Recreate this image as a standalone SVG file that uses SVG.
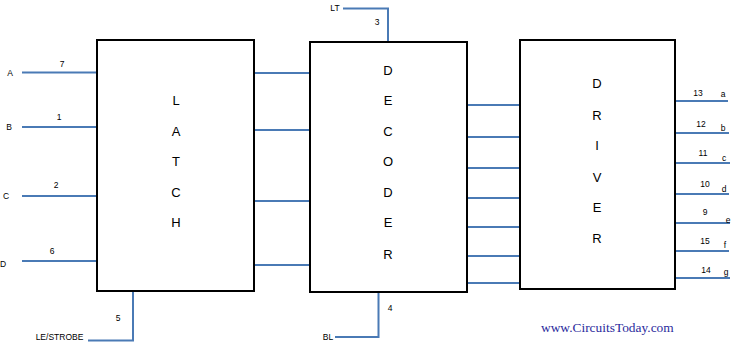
<svg xmlns="http://www.w3.org/2000/svg" width="738" height="350" viewBox="0 0 738 350">
<style>
.box{fill:#fff;stroke:#000;stroke-width:2}
.w{fill:none;stroke:#4a7ab5;stroke-width:2}
.big{font-family:"Liberation Sans",Arial,sans-serif;font-size:13px;fill:#000;text-anchor:middle}
.sm{font-family:"Liberation Sans",Arial,sans-serif;font-size:8.5px;fill:#000}
.mid{text-anchor:middle}
.url{font-family:"Liberation Serif","Times New Roman",serif;font-size:13.4px;fill:#2a2a9c}
</style>
<rect width="738" height="350" fill="#fff"/>
<g id="connectors">
<path class="w" d="M22 72.5H97M22 127H97M22 196H97M22 261H97"/>
<path class="w" d="M254 73H310M254 130H310M254 201H310M254 265H310"/>
<path class="w" d="M467 105H520M467 137H520M467 168H520M467 198H520M467 227H520M467 256H520M467 283H520"/>
<path class="w" d="M675 101H728M675 133H729M675 163H730M675 194H729M675 223H730M675 251H729M675 278H730"/>
<path class="w" d="M343 8.5H388V42"/>
<path class="w" d="M378.5 292V337H335"/>
<path class="w" d="M133 291V340.5H88"/>
</g>
<g id="latch">
<rect class="box" x="97" y="40" width="157" height="251"/>
<text class="big" x="176" y="105">L</text>
<text class="big" x="176" y="136">A</text>
<text class="big" x="176" y="166">T</text>
<text class="big" x="176" y="197">C</text>
<text class="big" x="176" y="227">H</text>
</g>
<g id="decoder">
<rect class="box" x="310" y="42" width="157" height="250"/>
<text class="big" x="388" y="75">D</text>
<text class="big" x="388" y="105">E</text>
<text class="big" x="388" y="136">C</text>
<text class="big" x="388" y="166">O</text>
<text class="big" x="388" y="197">D</text>
<text class="big" x="388" y="227">E</text>
<text class="big" x="388" y="259">R</text>
</g>
<g id="driver">
<rect class="box" x="520" y="40" width="155" height="249"/>
<text class="big" x="597" y="88">D</text>
<text class="big" x="597" y="120">R</text>
<text class="big" x="597" y="150">I</text>
<text class="big" x="597" y="182">V</text>
<text class="big" x="597" y="212">E</text>
<text class="big" x="597" y="243">R</text>
</g>
<g id="labels">
<text class="sm mid" x="10" y="76">A</text>
<text class="sm mid" x="9" y="130">B</text>
<text class="sm mid" x="6" y="199">C</text>
<text class="sm mid" x="3" y="267">D</text>
<text class="sm mid" x="62" y="67">7</text>
<text class="sm mid" x="59" y="120">1</text>
<text class="sm mid" x="56" y="188">2</text>
<text class="sm mid" x="52" y="254">6</text>
<text class="sm mid" x="335" y="11">LT</text>
<text class="sm mid" x="377" y="25">3</text>
<text class="sm mid" x="328" y="340">BL</text>
<text class="sm mid" x="390" y="311">4</text>
<text class="sm mid" x="59.5" y="340">LE/STROBE</text>
<text class="sm mid" x="118" y="321">5</text>
<text class="sm mid" x="698" y="96">13</text>
<text class="sm mid" x="701" y="127">12</text>
<text class="sm mid" x="703" y="156">11</text>
<text class="sm mid" x="705" y="187">10</text>
<text class="sm mid" x="705" y="215">9</text>
<text class="sm mid" x="705" y="244">15</text>
<text class="sm mid" x="706" y="273">14</text>
<text class="sm mid" x="723" y="97">a</text>
<text class="sm mid" x="723" y="131">b</text>
<text class="sm mid" x="724" y="161">c</text>
<text class="sm mid" x="724" y="192">d</text>
<text class="sm mid" x="728" y="223">e</text>
<text class="sm mid" x="725" y="248">f</text>
<text class="sm mid" x="726" y="275">g</text>
<text class="url" x="541" y="332">www.CircuitsToday.com</text>
</g>
</svg>
